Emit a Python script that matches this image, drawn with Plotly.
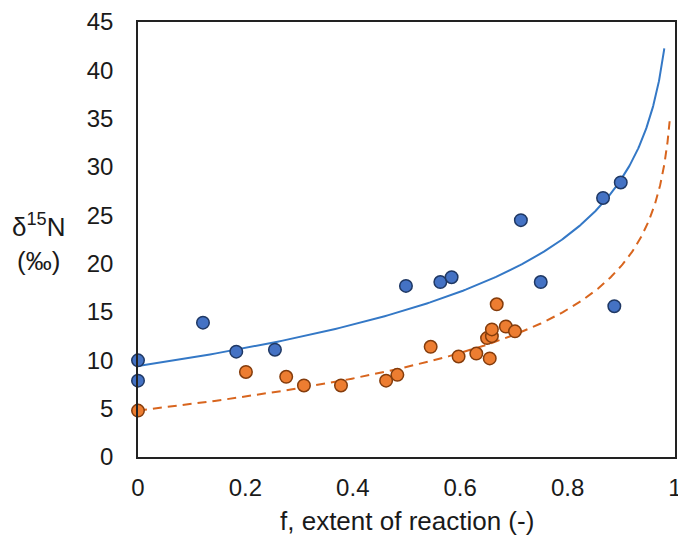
import numpy as np
import plotly.graph_objects as go

# Measured δ15N (‰) against extent of reaction f
blue_f = [0.0, 0.0, 0.121, 0.183, 0.255, 0.499, 0.563, 0.584, 0.713, 0.750, 0.866, 0.887, 0.899]
blue_d15n = [10.0, 7.9, 13.9, 10.9, 11.1, 17.7, 18.1, 18.6, 24.5, 18.1, 26.8, 15.6, 28.4]

orange_f = [0.0, 0.201, 0.276, 0.309, 0.378, 0.462, 0.483, 0.545, 0.597, 0.630, 0.655,
            0.650, 0.659, 0.659, 0.668, 0.685, 0.702]
orange_d15n = [4.8, 8.8, 8.3, 7.4, 7.4, 7.9, 8.5, 11.4, 10.4, 10.7, 10.2,
               12.3, 12.5, 13.2, 15.8, 13.5, 13.0]

# Rayleigh fit parameters: delta = delta0 - eps * ln(1 - f)
blue_delta0, blue_eps, blue_fmax = 9.4, 8.4, 0.98
orange_delta0, orange_eps, orange_fmax = 4.8, 6.5, 0.99

x_tickvals = [0, 0.2, 0.4, 0.6, 0.8, 1.0]
x_ticktext = ["0", "0.2", "0.4", "0.6", "0.8", "1"]
y_tickvals = [0, 5, 10, 15, 20, 25, 30, 35, 40, 45]


def rayleigh(delta0, eps, fmax, n=300):
    rem = np.geomspace(1.0, 1.0 - fmax, n)
    f = 1.0 - rem
    return f, delta0 - eps * np.log(rem)


FONT = "Liberation Sans, Arial, Helvetica, sans-serif"
BLUE_LINE = "#3478C6"
ORANGE_LINE = "#D8651E"

fig = go.Figure()

bf, bd = rayleigh(blue_delta0, blue_eps, blue_fmax)
fig.add_trace(go.Scatter(x=bf, y=bd, mode="lines",
                         line=dict(color=BLUE_LINE, width=2), hoverinfo="skip"))
of, od = rayleigh(orange_delta0, orange_eps, orange_fmax)
fig.add_trace(go.Scatter(x=of, y=od, mode="lines",
                         line=dict(color=ORANGE_LINE, width=2, dash="9px,6px"),
                         hoverinfo="skip"))

fig.add_trace(go.Scatter(x=blue_f, y=blue_d15n, mode="markers", cliponaxis=False,
                         marker=dict(size=12.5, color="#4472C4",
                                     line=dict(color="#1F3864", width=1.5))))
fig.add_trace(go.Scatter(x=orange_f, y=orange_d15n, mode="markers", cliponaxis=False,
                         marker=dict(size=12.5, color="#ED7D31",
                                     line=dict(color="#843C0C", width=1.5))))

axis_common = dict(showgrid=False, zeroline=False, showline=True, mirror=True,
                   linecolor="#222222", linewidth=1.6, ticks="", automargin=False,
                   tickfont=dict(family=FONT, size=24, color="#1a1a1a"))

fig.update_xaxes(range=[0, 1], tickvals=x_tickvals, ticktext=x_ticktext,
                 ticklabelstandoff=8, ticklabeloverflow="allow", **axis_common)
fig.update_yaxes(range=[0, 45], tickvals=y_tickvals,
                 ticklabelstandoff=18, **axis_common)

fig.add_annotation(text="f, extent of reaction (-)", xref="paper", yref="paper",
                   x=0.5, y=0, xanchor="center", yanchor="middle", yshift=-64,
                   showarrow=False, font=dict(family=FONT, size=26, color="#1a1a1a"))
fig.add_annotation(text="δ<sup>15</sup>N<br>(‰)", xref="paper", yref="paper",
                   x=0, y=0.492, xanchor="center", yanchor="middle", xshift=-99,
                   showarrow=False, align="center",
                   font=dict(family=FONT, size=26, color="#1a1a1a"))

fig.update_layout(width=678, height=538, showlegend=False,
                  margin=dict(l=138, r=3, t=22, b=81),
                  paper_bgcolor="white", plot_bgcolor="white")

fig.write_html("out.html")
